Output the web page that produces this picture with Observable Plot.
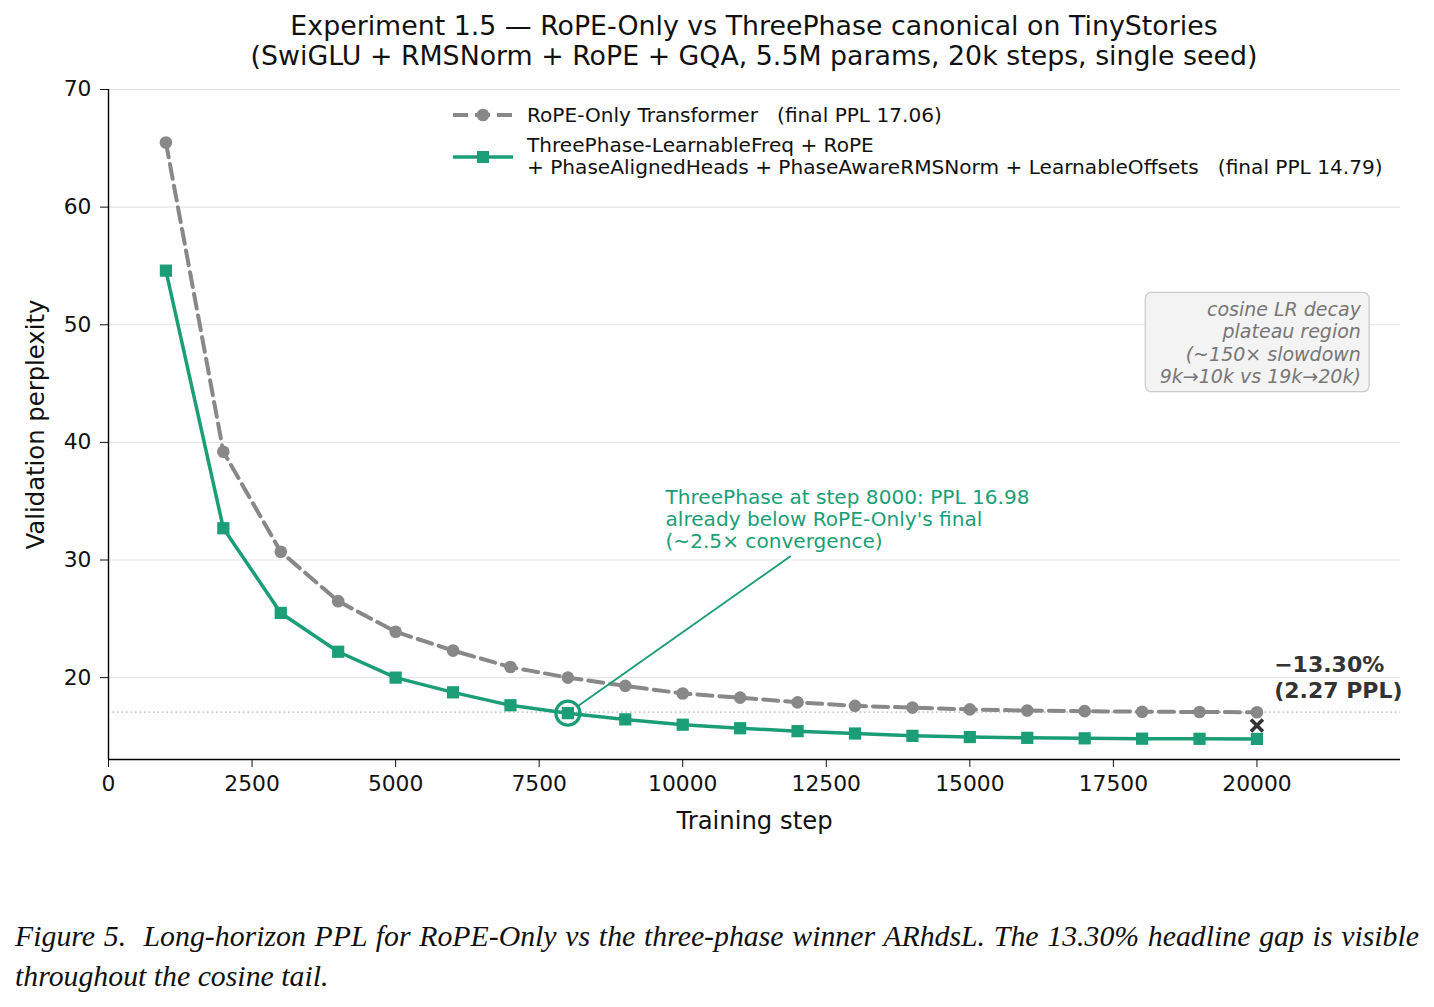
<!DOCTYPE html>
<html>
<head>
<meta charset="utf-8">
<script src="https://cdn.jsdelivr.net/npm/d3@7"></script>
<script src="https://cdn.jsdelivr.net/npm/@observablehq/plot@0.6"></script>
<style>
  body { margin: 0; background: #fff; }
  #page { position: relative; width: 1434px; height: 1007px; font-family: "DejaVu Sans", sans-serif; }
  .title { position: absolute; left: 0; width: 1508px; text-align: center; font-size: 26.8px; color: #111; white-space: pre; }
  #legend { position: absolute; left: 450px; top: 104px; font-size: 20.1px; color: #111; }
  .lrow { position: absolute; white-space: pre; }
  .cap { position: absolute; left: 15px; width: 1404px; font-family: "Liberation Serif", serif; font-style: italic; font-size: 29.8px; color: #111; white-space: nowrap; }
  #cap1 { text-align: justify; text-align-last: justify; white-space: normal; }
</style>
</head>
<body>
<div id="page">
  <div class="title" style="top: 10px;">Experiment 1.5 — RoPE-Only vs ThreePhase canonical on TinyStories</div>
  <div class="title" style="top: 40px;">(SwiGLU + RMSNorm + RoPE + GQA, 5.5M params, 20k steps, single seed)</div>
  <div id="chart" style="position:absolute; left:0; top:76px;"></div>
  <div id="legend"></div>
  <div class="cap" id="cap1" style="top: 919px;">Figure 5.&nbsp; Long-horizon PPL for RoPE-Only vs the three-phase winner ARhdsL. The 13.30% headline gap is visible</div>
  <div class="cap" style="top: 959px;">throughout the cosine tail.</div>
</div>
<script>
// Validation checkpoints every 1000 steps
const steps = [1000, 2000, 3000, 4000, 5000, 6000, 7000, 8000, 9000, 10000,
               11000, 12000, 13000, 14000, 15000, 16000, 17000, 18000, 19000, 20000];
const ropeOnly = [65.5, 39.2, 30.7, 26.5, 23.9, 22.3, 20.9, 20.0, 19.3, 18.65,
                  18.3, 17.9, 17.6, 17.45, 17.3, 17.2, 17.15, 17.1, 17.08, 17.06];
const threePhase = [54.6, 32.7, 25.5, 22.2, 20.0, 18.75, 17.65, 16.98, 16.45, 16.0,
                    15.7, 15.45, 15.25, 15.05, 14.95, 14.88, 14.84, 14.81, 14.8, 14.79];

const xTicks = [0, 2500, 5000, 7500, 10000, 12500, 15000, 17500, 20000];
const yTicks = [20, 30, 40, 50, 60, 70];
const xDomain = [0, 22500];
const yDomain = [13.04, 70];

const GREEN = "#1b9e77";
const GRAY = "#888888";
const DASH = "15,7";

// Annotation anchors and texts
const crossStep = 8000;
const crossPPL = 16.98;
const finalRope = 17.06;
const finalThree = 14.79;
const noteCross = ["ThreePhase at step 8000: PPL 16.98", "already below RoPE-Only's final", "(~2.5× convergence)"];
const noteCrossPos = {x: 9700, y: 33.5};
const noteCrossFrom = {x: 11870, y: 30.3};
const notePlateau = ["cosine LR decay", "plateau region", "(~150× slowdown", "9k→10k vs 19k→20k)"];
const notePlateauPos = {x: 21810, y: 48.5};
const noteGap = ["−13.30%", "(2.27 PPL)"];
const noteGapPos = {x: 20300, y: 20.1};

const rope = steps.map((s, i) => ({step: s, ppl: ropeOnly[i]}));
const three = steps.map((s, i) => ({step: s, ppl: threePhase[i]}));

const chart = Plot.plot({
  width: 1434,
  height: 784,
  marginLeft: 108,
  marginRight: 34,
  marginTop: 13,
  marginBottom: 101,
  style: {fontFamily: "DejaVu Sans, sans-serif", fontSize: "21.8px", color: "#111", background: "white"},
  x: {domain: xDomain, label: "Training step"},
  y: {domain: yDomain, label: "Validation perplexity"},
  marks: [
    Plot.gridY(yTicks, {stroke: "#e5e5e5", strokeOpacity: 1, strokeWidth: 1.2}),
    Plot.ruleY([finalRope], {stroke: "#b0b0b0", strokeWidth: 1.3, strokeDasharray: "1.5,3"}),
    Plot.axisX({ticks: xTicks, tickFormat: d => String(d), tickSize: 8, tickPadding: 8, tickStrokeWidth: 1.4,
                fontSize: 21.8, label: null}),
    Plot.axisX({ticks: [], label: "Training step", labelAnchor: "center", labelOffset: 69, labelArrow: "none", fontSize: 24.3}),
    Plot.axisY({ticks: yTicks, tickSize: 8, tickPadding: 9, tickStrokeWidth: 1.4, fontSize: 21.8, label: null}),
    Plot.axisY({ticks: [], label: "Validation perplexity", labelAnchor: "center", labelOffset: 82, labelArrow: "none", fontSize: 24.3}),
    Plot.ruleX([xDomain[0]], {stroke: "#000", strokeWidth: 1.4}),
    Plot.ruleY([yDomain[0]], {stroke: "#000", strokeWidth: 1.4}),
    // RoPE-only baseline: dashed grey with round markers
    Plot.line(rope, {x: "step", y: "ppl", stroke: GRAY, strokeWidth: 4, strokeDasharray: DASH}),
    Plot.dot(rope, {x: "step", y: "ppl", r: 6.3, fill: GRAY, stroke: "none"}),
    // ThreePhase: solid green with square markers
    Plot.line(three, {x: "step", y: "ppl", stroke: GREEN, strokeWidth: 3.5}),
    Plot.dot(three, {x: "step", y: "ppl", symbol: "square", r: 6.9, fill: GREEN, stroke: "none"}),
    // highlight the crossing point
    Plot.dot([{step: crossStep, ppl: crossPPL}], {x: "step", y: "ppl", r: 12, stroke: GREEN, strokeWidth: 3.2, fill: "none"}),
    Plot.arrow([{}], {x1: () => noteCrossFrom.x, y1: () => noteCrossFrom.y, x2: () => crossStep, y2: () => crossPPL,
                      stroke: GREEN, strokeWidth: 1.9, headLength: 0, insetEnd: 12}),
    Plot.text([noteCross.join("\n")], {x: noteCrossPos.x, y: noteCrossPos.y, text: d => d, textAnchor: "start",
                lineAnchor: "middle", fill: GREEN, fontSize: 20.1, lineHeight: 1.1}),
    // final gap marker and label
    Plot.dot([{step: steps[steps.length - 1], ppl: (finalRope + finalThree) / 2}], {x: "step", y: "ppl", symbol: "times",
                r: 5.5, stroke: "#333", strokeWidth: 3.6}),
    Plot.text([noteGap.join("\n")], {x: noteGapPos.x, y: noteGapPos.y, text: d => d, textAnchor: "start",
                lineAnchor: "middle", fill: "#333", fontSize: 22, fontWeight: "bold", lineHeight: 1.18}),
    // plateau note (box drawn behind it after render)
    Plot.text([notePlateau.join("\n")], {x: notePlateauPos.x, y: notePlateauPos.y, text: d => d, textAnchor: "end",
                lineAnchor: "middle", fill: "#777", fontSize: 19, fontStyle: "italic", lineHeight: 1.18,
                className: "plateau-note"})
  ]
});
document.getElementById("chart").appendChild(chart);

// rounded box around the plateau note
const noteG = chart.querySelector("g.plateau-note") || chart.querySelector(".plateau-note");
if (noteG) {
  const bb = noteG.getBBox();
  const ns = "http://www.w3.org/2000/svg";
  const rect = document.createElementNS(ns, "rect");
  const padL = 14, padR = 8, padY = 5;
  rect.setAttribute("x", bb.x - padL);
  rect.setAttribute("y", bb.y - padY);
  rect.setAttribute("width", bb.width + padL + padR);
  rect.setAttribute("height", bb.height + 2 * padY);
  rect.setAttribute("rx", 6);
  rect.setAttribute("fill", "#f3f3f3");
  rect.setAttribute("stroke", "#cccccc");
  rect.setAttribute("stroke-width", 1.3);
  noteG.parentNode.insertBefore(rect, noteG);
}

// legend entries
const legendItems = [
  {lines: ["RoPE-Only Transformer   (final PPL 17.06)"], color: GRAY, dash: DASH, marker: "circle"},
  {lines: ["ThreePhase-LearnableFreq + RoPE", "+ PhaseAlignedHeads + PhaseAwareRMSNorm + LearnableOffsets   (final PPL 14.79)"],
   color: GREEN, dash: null, marker: "square"}
];
const legend = d3.select("#legend");
let rowTop = 0;
legendItems.forEach(item => {
  const h = item.lines.length * 22;
  const row = legend.append("div").attr("class", "lrow").style("top", rowTop + "px").style("left", "0px");
  const sw = row.append("svg").attr("width", 66).attr("height", h)
    .style("position", "absolute").style("left", "0px").style("top", "0px");
  const cy = h / 2 + (item.lines.length > 1 ? 1 : 0);
  sw.append("line").attr("x1", 3).attr("x2", 63).attr("y1", cy).attr("y2", cy)
    .attr("stroke", item.color).attr("stroke-width", item.dash ? 4 : 3.5)
    .attr("stroke-dasharray", item.dash);
  if (item.marker === "circle") sw.append("circle").attr("cx", 33).attr("cy", cy).attr("r", 6.3).attr("fill", item.color);
  else sw.append("rect").attr("x", 27).attr("y", cy - 6).attr("width", 12).attr("height", 12).attr("fill", item.color);
  const txt = row.append("div").style("position", "absolute").style("left", "77px").style("top", "0px")
    .style("line-height", "22px").style("white-space", "pre");
  txt.html(item.lines.join("<br>"));
  rowTop += h + 8;
});
</script>
</body>
</html>
